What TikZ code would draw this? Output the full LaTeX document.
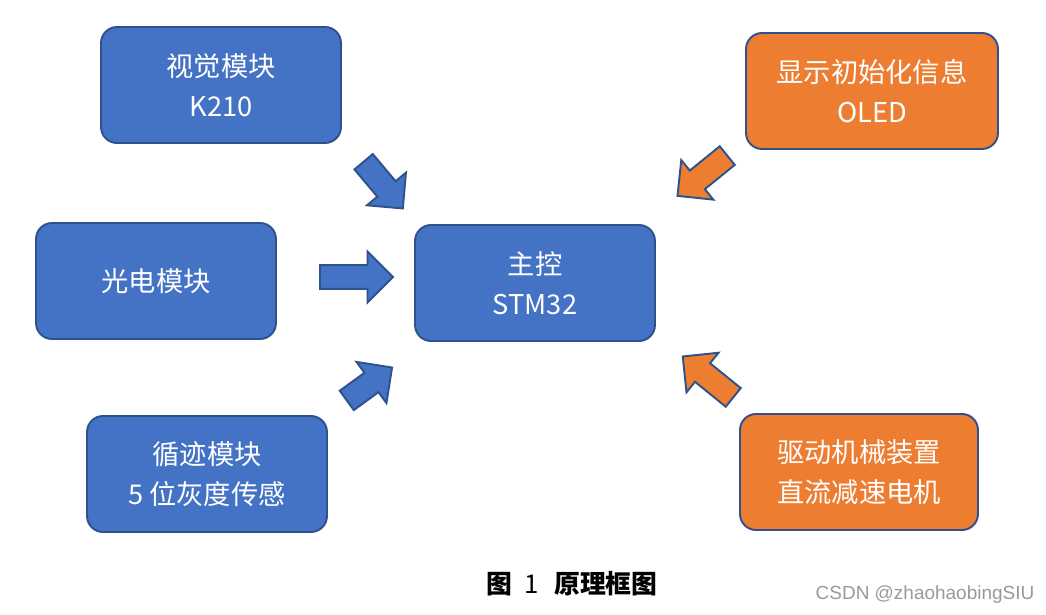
\documentclass[tikz,border=0pt]{standalone}
\usepackage{fontspec}
\setmainfont{Noto Sans CJK SC}
\setsansfont{Liberation Sans}
\usepackage{xcolor}
\usetikzlibrary{shapes,arrows,positioning,calc}

\definecolor{boxblue}{HTML}{4472C4}
\definecolor{boxorange}{HTML}{ED7D31}
\definecolor{edgeblue}{HTML}{2F528F}

\begin{document}
\begin{tikzpicture}[
    x=0.02cm, y=-0.02cm,
    module/.style={rectangle, rounded corners=0.32cm, draw=edgeblue, line width=1.1pt, fill=boxblue, text=white, align=center, minimum width=4.8cm, minimum height=2.32cm, font=\fontsize{15.5}{22.7}\selectfont},
    output/.style={module, fill=boxorange},
    flow/.style={single arrow, anchor=tail, draw=edgeblue, line width=1.1pt, fill=boxblue, inner sep=0pt, inner ysep=0.22cm, text height=0pt, text depth=0pt, single arrow head extend=0.27cm, single arrow tip angle=90},
    flowback/.style={flow, fill=boxorange}
]
\useasboundingbox (0,0) rectangle (1046,615);

% Nodes
\node[module] (vision) at (221,85) {视觉模块\\K210};
\node[module] (photo) at (156,281) {光电模块};
\node[module] (track) at (207,474) {循迹模块\\5 位灰度传感};
\node[module] (main) at (535,283) {主控\\STM32};
\node[output, minimum width=5.04cm] (oled) at (872,91) {显示初始化信息\\OLED};
\node[output, minimum width=4.76cm] (motor) at (859,472) {驱动机械装置\\直流减速电机};

% Block arrows (placed by their tail)
\node[flow, minimum height=1.22cm, rotate=-50] (visionflow) at (363,161) {};
\node[flow, minimum height=1.46cm] (photoflow) at (319,277) {};
\node[flow, minimum height=1.12cm, rotate=36] (trackflow) at (346,401) {};
\node[flowback, minimum height=1.28cm, rotate=-141] (oledflow) at (728,155) {};
\node[flowback, minimum height=1.3cm, rotate=141] (motorflow) at (734,398) {};

% Caption
\node[font=\fontsize{14.7}{16}\selectfont\bfseries] (caption) at (572,584) {图\hspace{0.25cm}{\rmfamily\mdseries 1}\hspace{0.3cm}原理框图};
\node[font=\sffamily\fontsize{10.8}{12}\selectfont, text=black!40] (mark) at (925,595) {CSDN @zhaohaobingSIU};

\end{tikzpicture}
\end{document}
